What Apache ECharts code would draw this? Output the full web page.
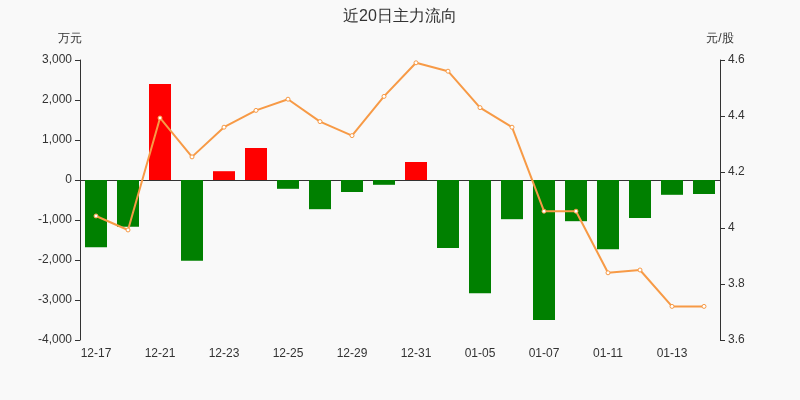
<!DOCTYPE html><html><head><meta charset="utf-8"><script src="https://cdn.jsdelivr.net/npm/echarts@6/dist/echarts.min.js"></script></head><body style="margin:0;background:#f9f9f9"><div id="c" style="width:800px;height:400px"></div><script>
const categories=['12-17','12-18','12-21','12-22','12-23','12-24','12-25','12-28','12-29','12-30','12-31','01-04','01-05','01-06','01-07','01-08','01-11','01-12','01-13','01-14'];
const flows=[-1680,-1170,2400,-2020,220,800,-220,-730,-300,-120,450,-1700,-2830,-980,-3500,-1030,-1730,-950,-370,-350];
const prices=[4.043,3.993,4.393,4.254,4.36,4.42,4.46,4.38,4.33,4.47,4.59,4.56,4.43,4.36,4.06,4.06,3.84,3.85,3.72,3.72];
const c=echarts.init(document.getElementById('c'));
c.setOption({backgroundColor:'#f9f9f9',animation:false,
title:{text:'近20日主力流向',left:'center',top:4,textStyle:{fontSize:16,fontWeight:'normal',color:'#333'}},
grid:{left:80,right:80,top:60,bottom:60},
xAxis:{type:'category',data:categories,axisLabel:{interval:1,color:'#333'},axisTick:{interval:1},axisLine:{lineStyle:{color:'#333'}}},
yAxis:[{type:'value',name:'万元',min:-4000,max:3000,interval:1000,nameTextStyle:{color:'#333',padding:[0,20,0,0]},splitLine:{show:false},axisLine:{show:true,lineStyle:{color:'#333'}},axisTick:{show:true},axisLabel:{color:'#333',formatter:v=>v.toLocaleString('en-US')}},
{type:'value',name:'元/股',min:3.6,max:4.6,interval:0.2,nameTextStyle:{color:'#333'},splitLine:{show:false},axisLine:{show:true,lineStyle:{color:'#333'}},axisTick:{show:true},axisLabel:{color:'#333',formatter:v=>+v.toFixed(1)+''}}],
series:[{type:'bar',data:flows,barWidth:22,itemStyle:{color:p=>p.value>=0?'#ff0000':'#008000'}},
{type:'line',yAxisIndex:1,data:prices,symbol:'circle',symbolSize:4,lineStyle:{color:'#f79a46',width:2},itemStyle:{color:'#fff',borderColor:'#f79a46',borderWidth:1}}]});
</script></body></html>
